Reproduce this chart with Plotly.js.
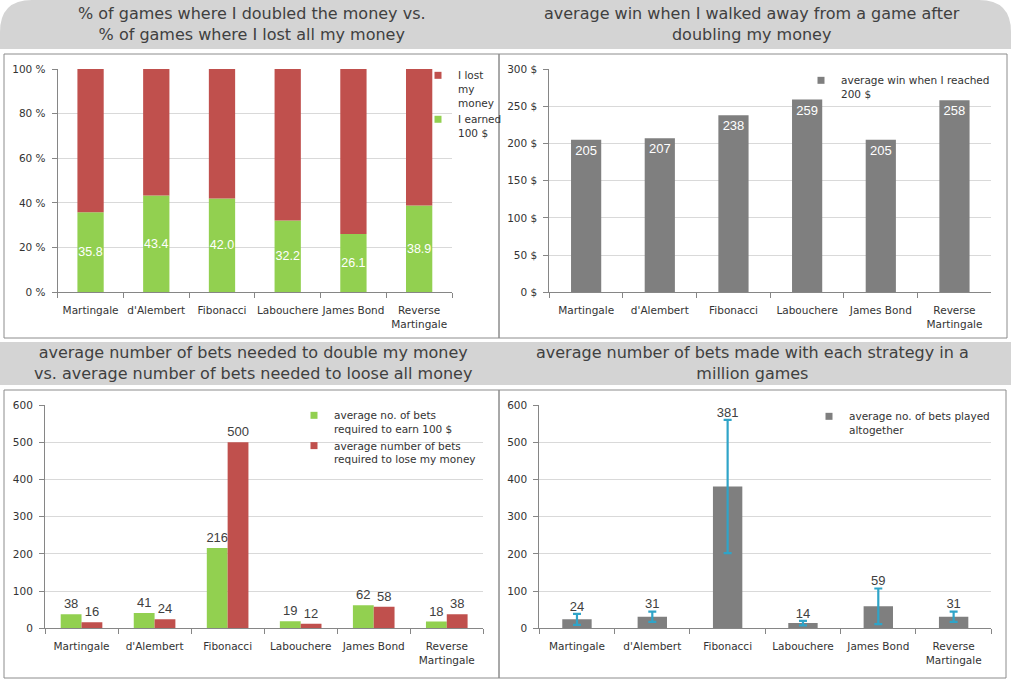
<!DOCTYPE html>
<html>
<head>
<meta charset="utf-8">
<script src="https://cdn.plot.ly/plotly-3.0.1.min.js"></script>
<style>html,body{margin:0;padding:0;background:#fff;}#chart{width:1011px;height:683px;}</style>
</head>
<body>
<div id="chart"></div>
<script>
// ---- data ----
const strategies = ['Martingale', "d'Alembert", 'Fibonacci', 'Labouchere', 'James Bond', 'Reverse Martingale'];
const tickLabels = ['Martingale', "d'Alembert", 'Fibonacci', 'Labouchere', 'James Bond', 'Reverse<br>Martingale'];
const earnedPct = [35.8, 43.4, 42.0, 32.2, 26.1, 38.9];
const lostPct = [64.2, 56.6, 58.0, 67.8, 73.9, 61.1];
const avgWin = [205, 207, 238, 259, 205, 258];
const betsToEarn = [38, 41, 216, 19, 62, 18];
const betsToLose = [16, 24, 500, 12, 58, 38];
const betsTotal = [24, 31, 381, 14, 59, 31];
const betsTotalErr = [15, 14, 179, 6, 48, 14];

const titles = [
  '% of games where I doubled the money vs.<br>% of games where I lost all my money',
  'average win when I walked away from a game after<br>doubling my money',
  'average number of bets needed to double my money<br>vs. average number of bets needed to loose all money',
  'average number of bets made with each strategy in a<br>million games'
];

// ---- style ----
const GREEN = '#92d050', RED = '#c0504d', GRAY = '#7f7f7f', ERR = '#2fa4c8';
const W = 1011, H = 683;
const px = x => x / W, py = y => 1 - y / H;
const labelFont = {family: 'Liberation Sans, Arial, sans-serif', size: 13, color: '#404040'};
const whiteFont = {family: 'Liberation Sans, Arial, sans-serif', size: 12.5, color: '#ffffff'};

const traces = [
  // panel 1
  {type: 'bar', x: strategies, y: earnedPct, xaxis: 'x', yaxis: 'y', width: 0.4, offset: -0.2,
   marker: {color: GREEN}, text: earnedPct.map(v => v.toFixed(1)), textposition: 'inside',
   insidetextanchor: 'middle', textangle: 0, constraintext: 'none', textfont: whiteFont,
   showlegend: false, hoverinfo: 'skip'},
  {type: 'bar', x: strategies, y: lostPct, base: earnedPct, xaxis: 'x', yaxis: 'y', width: 0.4, offset: -0.2,
   marker: {color: RED}, showlegend: false, hoverinfo: 'skip'},
  {type: 'scatter', x: [null], y: [null], xaxis: 'x', yaxis: 'y', mode: 'markers', name: 'I lost<br>my<br>money',
   marker: {symbol: 'square', size: 7, color: RED}, legend: 'legend'},
  {type: 'scatter', x: [null], y: [null], xaxis: 'x', yaxis: 'y', mode: 'markers', name: 'I earned<br>100 $',
   marker: {symbol: 'square', size: 7, color: GREEN}, legend: 'legend'},
  // panel 2
  {type: 'bar', x: strategies, y: avgWin, xaxis: 'x2', yaxis: 'y2', width: 0.41, offset: -0.205,
   marker: {color: GRAY}, text: avgWin.map(String), textposition: 'inside', insidetextanchor: 'end',
   textangle: 0, constraintext: 'none', textfont: Object.assign({}, whiteFont, {size: 13}),
   showlegend: false, hoverinfo: 'skip'},
  {type: 'scatter', x: [null], y: [null], xaxis: 'x2', yaxis: 'y2', mode: 'markers', name: 'average win when I reached<br>200 $',
   marker: {symbol: 'square', size: 7, color: GRAY}, legend: 'legend2'},
  // panel 3
  {type: 'bar', x: strategies, y: betsToEarn, xaxis: 'x3', yaxis: 'y3', width: 0.285, offset: -0.285,
   marker: {color: GREEN}, text: betsToEarn.map(String), textposition: 'outside', textangle: 0,
   constraintext: 'none', textfont: labelFont, cliponaxis: false, showlegend: false, hoverinfo: 'skip'},
  {type: 'bar', x: strategies, y: betsToLose, xaxis: 'x3', yaxis: 'y3', width: 0.285, offset: 0,
   marker: {color: RED}, text: betsToLose.map(String), textposition: 'outside', textangle: 0,
   constraintext: 'none', textfont: labelFont, cliponaxis: false, showlegend: false, hoverinfo: 'skip'},
  {type: 'scatter', x: [null], y: [null], xaxis: 'x3', yaxis: 'y3', mode: 'markers', name: 'average no. of bets<br>required to earn 100 $',
   marker: {symbol: 'square', size: 7, color: GREEN}, legend: 'legend3'},
  {type: 'scatter', x: [null], y: [null], xaxis: 'x3', yaxis: 'y3', mode: 'markers', name: 'average number of bets<br>required to lose my money',
   marker: {symbol: 'square', size: 7, color: RED}, legend: 'legend3'},
  // panel 4
  {type: 'bar', x: strategies, y: betsTotal, xaxis: 'x4', yaxis: 'y4', width: 0.39,
   marker: {color: GRAY}, error_y: {type: 'data', array: betsTotalErr, visible: true, color: ERR, thickness: 2.2, width: 4},
   showlegend: false, hoverinfo: 'skip'},
  {type: 'scatter', x: strategies, y: betsTotal.map((v, i) => v + betsTotalErr[i]), xaxis: 'x4', yaxis: 'y4',
   mode: 'text', text: betsTotal.map(String), textposition: 'top center', textfont: labelFont,
   cliponaxis: false, showlegend: false, hoverinfo: 'skip'},
  {type: 'scatter', x: [null], y: [null], xaxis: 'x4', yaxis: 'y4', mode: 'markers', name: 'average no. of bets played<br>altogether',
   marker: {symbol: 'square', size: 7, color: GRAY}, legend: 'legend4'}
];

const tickFont = {family: 'DejaVu Sans, sans-serif', size: 10.5, color: '#333333'};
function xAxis(x0, x1) {
  return {domain: [px(x0), px(x1)], type: 'category', range: [-0.5, 5.5], autorange: false,
    tickmode: 'array', tickvals: strategies, ticktext: tickLabels, tickson: 'boundaries', tickangle: 0,
    ticks: 'outside', ticklen: 5, tickcolor: '#868686', showline: true, linecolor: '#868686', linewidth: 1,
    showgrid: false, zeroline: false, tickfont: tickFont, ticklabelstandoff: 8, fixedrange: true};
}
function yAxis(yTop, yBot, max, dtick, suffix) {
  return {domain: [py(yBot), py(yTop)], range: [0, max], autorange: false, dtick: dtick, tick0: 0,
    ticksuffix: suffix, ticks: 'outside', ticklen: 5, tickcolor: '#868686', showline: true,
    linecolor: '#868686', linewidth: 1, showgrid: true, gridcolor: '#d9d9d9', gridwidth: 1,
    zeroline: false, tickfont: tickFont, ticklabelstandoff: 4, fixedrange: true};
}

const xa1 = xAxis(57.7, 452), xa2 = xAxis(549.3, 991.3), xa3 = xAxis(45, 483.3), xa4 = xAxis(539.3, 991.3);
xa1.anchor = 'y'; xa2.anchor = 'y2'; xa3.anchor = 'y3'; xa4.anchor = 'y4';
const ya1 = yAxis(69, 292.3, 100, 20, ' %'); ya1.anchor = 'x';
const ya2 = yAxis(69, 292.3, 300, 50, ' $'); ya2.anchor = 'x2';
const ya3 = yAxis(405, 628.3, 600, 100, ''); ya3.anchor = 'x3';
const ya4 = yAxis(405, 628.3, 600, 100, ''); ya4.anchor = 'x4';

const legendBase = {xanchor: 'left', yanchor: 'top', bgcolor: 'rgba(0,0,0,0)', borderwidth: 0,
  font: {family: 'DejaVu Sans, sans-serif', size: 10.5, color: '#333333'}, valign: 'top',
  itemwidth: 30, tracegroupgap: 0, traceorder: 'normal'};
const leg = (x, y) => Object.assign({}, legendBase, {x: px(x), y: py(y)});

const BAND = '#d4d4d4', BORDER = '#8c8c8c';
const r = 32;
const topBand = `M ${px(0)},${py(49)} L ${px(0)},${py(r)} Q ${px(0)},${py(0)} ${px(r)},${py(0)} ` +
  `L ${px(W - r)},${py(0)} Q ${px(W)},${py(0)} ${px(W)},${py(r)} L ${px(W)},${py(49)} Z`;
const rectShape = (x0, y0, x1, y1) => ({type: 'rect', xref: 'paper', yref: 'paper', x0: px(x0), x1: px(x1),
  y0: py(y1), y1: py(y0), line: {color: BORDER, width: 1}, fillcolor: 'rgba(0,0,0,0)', layer: 'below'});

const shapes = [
  {type: 'path', xref: 'paper', yref: 'paper', path: topBand, fillcolor: BAND, line: {width: 0}, layer: 'below'},
  {type: 'rect', xref: 'paper', yref: 'paper', x0: 0, x1: 1, y0: py(385), y1: py(342), fillcolor: BAND, line: {width: 0}, layer: 'below'},
  rectShape(4, 54, 499, 338), rectShape(499, 54, 1007, 338),
  rectShape(4, 390, 499, 678), rectShape(499, 390, 1006, 678)
];

const titleFont = {family: 'DejaVu Sans, sans-serif', size: 16, color: '#404040'};
const annotations = [
  {text: titles[0], x: px(252), y: py(24)},
  {text: titles[1], x: px(752), y: py(24)},
  {text: titles[2], x: px(252.5), y: py(362.5)},
  {text: titles[3], x: px(752), y: py(362.5)}
].map(a => Object.assign(a, {xref: 'paper', yref: 'paper', xanchor: 'center', yanchor: 'middle',
  showarrow: false, align: 'center', font: titleFont}));

const layout = {
  width: W, height: H, margin: {l: 0, r: 0, t: 0, b: 0}, paper_bgcolor: '#ffffff', plot_bgcolor: 'rgba(0,0,0,0)',
  font: {family: 'DejaVu Sans, sans-serif', color: '#333333'}, showlegend: true, barmode: 'group',
  xaxis: xa1, yaxis: ya1, xaxis2: xa2, yaxis2: ya2, xaxis3: xa3, yaxis3: ya3, xaxis4: xa4, yaxis4: ya4,
  legend: leg(418, 62), legend2: leg(801, 67), legend3: leg(294, 402), legend4: leg(809, 403),
  shapes: shapes, annotations: annotations, hovermode: false
};

Plotly.newPlot('chart', traces, layout, {staticPlot: true, displayModeBar: false});
</script>
</body>
</html>
